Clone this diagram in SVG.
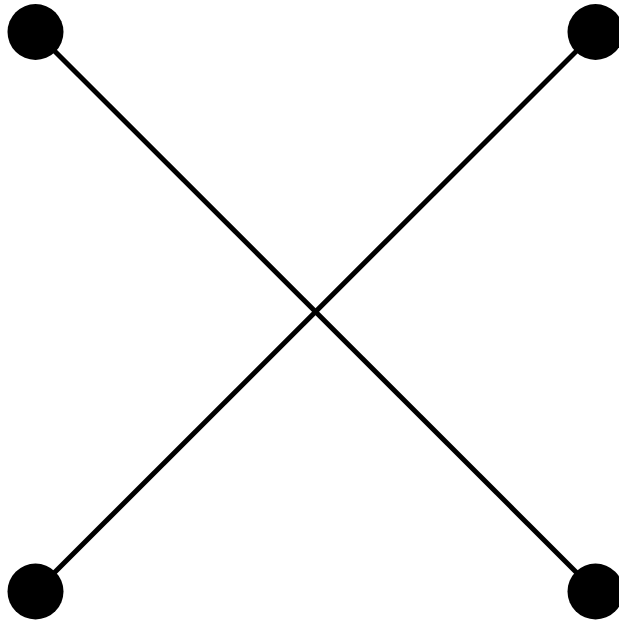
<svg xmlns="http://www.w3.org/2000/svg" width="619" height="624" viewBox="0 0 619 624">
<style>
.edge{stroke:#000;stroke-width:5;fill:none}
.node{fill:#000}
</style>
<rect width="619" height="624" fill="#fff"/>
<g id="connectors">
<line class="edge" x1="35.5" y1="32" x2="595.5" y2="591.5"/>
<line class="edge" x1="595.5" y1="32" x2="35.5" y2="591.5"/>
</g>
<g id="n1"><circle class="node" cx="35.5" cy="32" r="28"/></g>
<g id="n2"><circle class="node" cx="595.5" cy="32" r="28"/></g>
<g id="n3"><circle class="node" cx="35.5" cy="591.5" r="28"/></g>
<g id="n4"><circle class="node" cx="595.5" cy="591.5" r="28"/></g>
</svg>
